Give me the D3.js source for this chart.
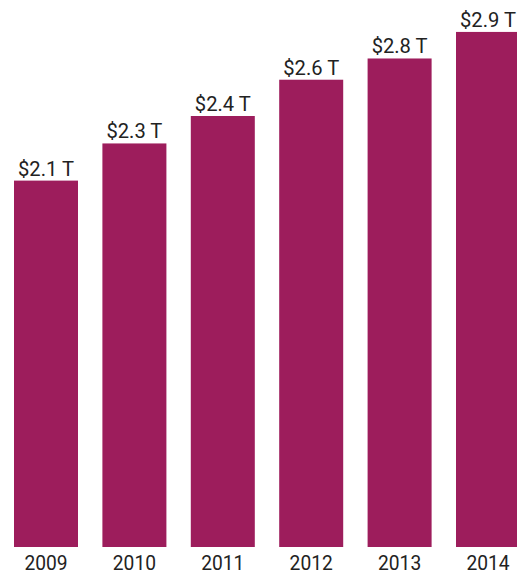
<!DOCTYPE html>
<html>
<head>
<meta charset="utf-8">
<script src="https://cdn.jsdelivr.net/npm/d3@7"></script>
<style>
  body { margin: 0; background: #fff; }
  text { font-family: Roboto, "Noto Sans", sans-serif; fill: #222; }
</style>
</head>
<body>
<div class="board"></div>
<script>
// data (trillions of dollars)
let years = ['2009', '2010', '2011', '2012', '2013', '2014'];
let values = [2.07, 2.28, 2.435, 2.64, 2.76, 2.91];

let width = 517, height = 575;

let svg = d3.select('.board').append('svg')
		.attr('width', width)
		.attr('height', height);

let x = d3.scaleBand()
		.domain(years)
		.range([14, 520])
		.paddingInner(0.276)
		.paddingOuter(0);

let y = d3.scaleLinear()
		.domain([0, 3])
		.range([547, 16]);

let fmt = d3.format('.1f');

/////// BARS ///////////////////////////////////////

svg.selectAll('rect.bar')
	.data(values)
	.enter().append('rect')
		.classed('bar', true)
		.attr('x', (d, i) => x(years[i]))
		.attr('y', d => y(d))
		.attr('width', x.bandwidth())
		.attr('height', d => y(0) - y(d))
		.attr('fill', '#9d1d5c');

/////// LABELS ///////////////////////////////////////

svg.selectAll('text.value')
	.data(values)
	.enter().append('text')
		.classed('value', true)
		.attr('text-anchor', 'middle')
		.attr('font-size', 21)
		.attr('transform', (d, i) => `translate(${x(years[i]) + x.bandwidth() / 2},${y(d) - 5}) scale(0.96,1)`)
		.text(d => `$${fmt(d)} T`);

// years sit just under the bars, kept inside the bottom edge
svg.selectAll('text.year')
	.data(years)
	.enter().append('text')
		.classed('year', true)
		.attr('text-anchor', 'middle')
		.attr('font-size', 20)
		.attr('transform', d => `translate(${x(d) + x.bandwidth() / 2},570) scale(0.96,1)`)
		.text(d => d);
</script>
</body>
</html>
